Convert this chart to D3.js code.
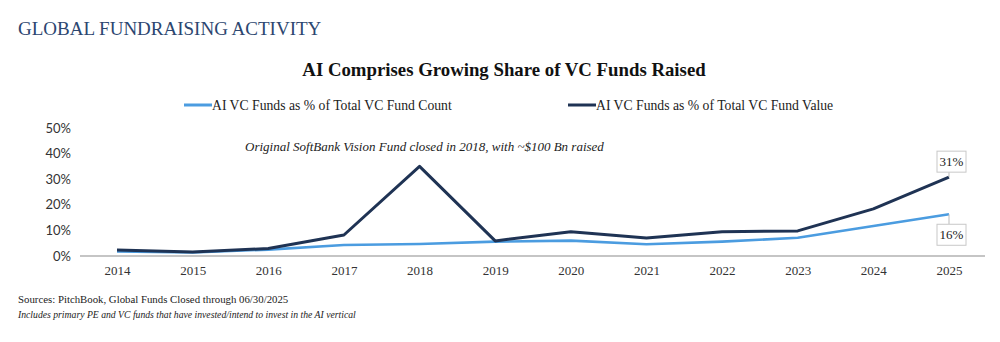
<!DOCTYPE html>
<html>
<head>
<meta charset="utf-8">
<script src="https://cdn.jsdelivr.net/npm/d3@7"></script>
<style>
  body { margin: 0; background: #fff; }
  svg text { font-family: "Liberation Serif", "DejaVu Serif", serif; }
</style>
</head>
<body>
<div id="chart"></div>
<script>
// data
const years = ["2014","2015","2016","2017","2018","2019","2020","2021","2022","2023","2024","2025"];
const countShare = [1.8, 1.4, 2.5, 4.3, 4.7, 5.6, 6.0, 4.6, 5.6, 7.1, 11.7, 16.3];
const valueShare = [2.3, 1.6, 2.9, 8.2, 35.0, 5.9, 9.5, 7.0, 9.5, 9.8, 18.4, 30.8];
const yTicks = [0, 10, 20, 30, 40, 50];

const width = 1000, height = 342;
const margin = {top: 128, right: 15, bottom: 86, left: 80};

const lightBlue = "#4b9ce0";
const darkBlue = "#1f3354";

let svg = d3.select("#chart")
    .append("svg")
        .attr("width", width)
        .attr("height", height);

// header + title
svg.append("text")
    .attr("x", 18).attr("y", 35)
    .attr("font-size", "19px")
    .attr("fill", "#2c4670")
    .text("GLOBAL FUNDRAISING ACTIVITY");

svg.append("text")
    .attr("x", 504).attr("y", 76)
    .attr("text-anchor", "middle")
    .attr("font-size", "18.8px")
    .attr("font-weight", "bold")
    .attr("fill", "#111")
    .text("AI Comprises Growing Share of VC Funds Raised");

let xScale = d3.scalePoint()
    .domain(years)
    .range([117, 949]);

let yScale = d3.scaleLinear()
    .domain([0, 50])
    .range([height - margin.bottom, margin.top]);

// y axis (labels only)
svg.append("g")
    .attr("transform", `translate(70, 0)`)
    .call(d3.axisLeft(yScale).tickValues(yTicks).tickFormat(d => d + "%").tickSize(0))
    .call(g => g.select(".domain").remove())
    .selectAll("text")
        .style("font-family", "Lato, 'Noto Sans', sans-serif")
        .attr("font-size", "13px")
        .attr("fill", "#333")
        .attr("dx", "0.3em");

// x axis
let xAxis = svg.append("g")
    .attr("transform", `translate(0, ${yScale(0)})`)
    .call(d3.axisBottom(xScale).tickSize(0).tickPadding(10));
xAxis.select(".domain")
    .attr("d", `M${margin.left},0H${width - margin.right}`)
    .attr("stroke", "#8c8c8c")
    .attr("stroke-width", 1.2);
xAxis.selectAll("text")
    .attr("font-size", "13px")
    .attr("fill", "#333");

// lines
let line = d3.line()
    .x((d, i) => xScale(years[i]))
    .y(d => yScale(d));

svg.append("path")
    .datum(countShare)
    .attr("fill", "none")
    .attr("stroke", lightBlue)
    .attr("stroke-width", 2.6)
    .attr("stroke-linejoin", "round")
    .attr("d", line);

svg.append("path")
    .datum(valueShare)
    .attr("fill", "none")
    .attr("stroke", darkBlue)
    .attr("stroke-width", 3)
    .attr("stroke-linejoin", "round")
    .attr("d", line);

// legend
const legend = [
    {label: "AI VC Funds as % of Total VC Fund Count", color: lightBlue, x: 184},
    {label: "AI VC Funds as % of Total VC Fund Value", color: darkBlue, x: 568}
];
legend.forEach(l => {
    svg.append("line")
        .attr("x1", l.x).attr("x2", l.x + 28)
        .attr("y1", 105).attr("y2", 105)
        .attr("stroke", l.color)
        .attr("stroke-width", 3);
    svg.append("text")
        .attr("x", l.x + 28).attr("y", 109.5)
        .attr("font-size", "13.7px")
        .attr("fill", "#222")
        .text(l.label);
});

// annotation
svg.append("text")
    .attr("x", 245).attr("y", 151)
    .attr("font-size", "13px")
    .attr("font-style", "italic")
    .attr("fill", "#222")
    .text("Original SoftBank Vision Fund closed in 2018, with ~$100 Bn raised");

// end labels
const last = years.length - 1;
const endLabels = [
    {v: valueShare[last], dy: -26},
    {v: countShare[last], dy: 10}
];
endLabels.forEach(e => {
    let cx = xScale(years[last]);
    let cy = yScale(e.v);
    let bx = cx - 12, by = cy + e.dy, bw = 29, bh = 21;
    svg.append("line")
        .attr("x1", cx).attr("y1", cy)
        .attr("x2", cx).attr("y2", e.dy < 0 ? by + bh : by)
        .attr("stroke", "#bbb");
    svg.append("rect")
        .attr("x", bx).attr("y", by)
        .attr("width", bw).attr("height", bh)
        .attr("fill", "#fff")
        .attr("stroke", "#c8c8c8");
    svg.append("text")
        .attr("x", bx + bw / 2).attr("y", by + 15)
        .attr("text-anchor", "middle")
        .attr("font-size", "13px")
        .attr("fill", "#222")
        .text(Math.round(e.v) + "%");
});

// footer
svg.append("text")
    .attr("x", 18).attr("y", 303)
    .attr("font-size", "10.8px")
    .attr("fill", "#222")
    .text("Sources: PitchBook, Global Funds Closed through 06/30/2025");
svg.append("text")
    .attr("x", 18).attr("y", 318)
    .attr("font-size", "9.7px")
    .attr("font-style", "italic")
    .attr("fill", "#222")
    .text("Includes primary PE and VC funds that have invested/intend to invest in the AI vertical");
</script>
</body>
</html>
